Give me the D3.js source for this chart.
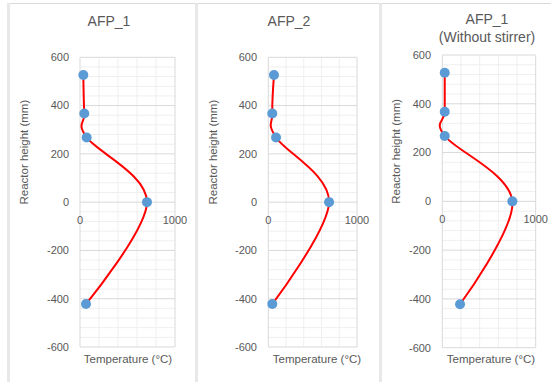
<!DOCTYPE html>
<html>
<head>
<meta charset="utf-8">
<script src="https://cdn.jsdelivr.net/npm/d3@7"></script>
<style>
  body { margin: 0; background: #fff; }
  svg { display: block; font-family: "Liberation Sans", Arial, sans-serif; }
</style>
</head>
<body>
<svg id="chart" width="551" height="382"></svg>
<script>
// Data
const heights = [527, 367, 268, 0, -422];
const tempAfp1 = [35, 45, 70, 705, 63];
const tempAfp2 = [64, 45, 87, 685, 45];
const tempAfp1NoStirrer = [26, 26, 26, 750, 190];
const titles = [["AFP_1"], ["AFP_2"], ["AFP_1", "(Without stirrer)"]];
const yTicks = [-600, -400, -200, 0, 200, 400, 600];
const xTicks = [0, 1000];

const series = [tempAfp1, tempAfp2, tempAfp1NoStirrer];

//Helpers
const translate = (x, y) => `translate(${x}, ${y})`;

// Layout of the three chart boxes
const layout = [
    { frame: 7, left: 80, right: 175, top: 57.3, bottom: 347, titleX: 109, titleY: [26], yTitleX: 24, tickRight: 69, xTitleX: 128 },
    { frame: 195, left: 268.3, right: 357, top: 57.3, bottom: 347, titleX: 289, titleY: [26], yTitleX: 213, tickRight: 257, xTitleX: 317 },
    { frame: 379, left: 442.3, right: 535.7, top: 55, bottom: 347.7, titleX: 487, titleY: [24, 42], yTitleX: 396, tickRight: 431, xTitleX: 491 },
];

const svg = d3.select("#chart");
const textColor = "#595959";

// frames
svg.append("line")
    .attr("x1", 7).attr("x2", 551).attr("y1", 3.5).attr("y2", 3.5)
    .attr("stroke", "#d9d9d9");
layout.forEach(l => {
    svg.append("rect")
        .attr("x", l.frame).attr("y", 3)
        .attr("width", 3).attr("height", 379)
        .attr("fill", "#e8e8e8");
});

const drawPanel = (g, temps, titleLines, l) => {
    const x = d3.scaleLinear().domain([0, 1000]).range([l.left, l.right]);
    const y = d3.scaleLinear().domain([-600, 600]).range([l.bottom, l.top]);

    // minor grid
    g.append("g").selectAll("line")
        .data(d3.range(-600, 601, 40).filter(v => v % 200 !== 0))
        .join("line")
        .attr("x1", l.left).attr("x2", l.right)
        .attr("y1", d => y(d)).attr("y2", d => y(d))
        .attr("stroke", "#efefef");
    g.append("g").selectAll("line")
        .data(d3.range(200, 1000, 200))
        .join("line")
        .attr("y1", l.top).attr("y2", l.bottom)
        .attr("x1", d => x(d)).attr("x2", d => x(d))
        .attr("stroke", "#efefef");
    // major grid
    g.append("g").selectAll("line")
        .data(yTicks)
        .join("line")
        .attr("x1", l.left).attr("x2", l.right)
        .attr("y1", d => y(d)).attr("y2", d => y(d))
        .attr("stroke", "#d9d9d9");
    g.append("g").selectAll("line")
        .data(xTicks)
        .join("line")
        .attr("y1", l.top).attr("y2", l.bottom)
        .attr("x1", d => x(d)).attr("x2", d => x(d))
        .attr("stroke", "#d9d9d9");

    // tick labels
    g.append("g").selectAll("text")
        .data(yTicks)
        .join("text")
        .attr("x", l.tickRight)
        .attr("y", d => y(d))
        .attr("dy", "0.35em")
        .attr("text-anchor", "end")
        .attr("font-size", 11)
        .attr("fill", textColor)
        .text(d => d);
    g.append("g").selectAll("text")
        .data(xTicks)
        .join("text")
        .attr("x", d => x(d))
        .attr("y", y(0) + 22)
        .attr("text-anchor", "middle")
        .attr("font-size", 11)
        .attr("fill", textColor)
        .text(d => d);

    // titles
    titleLines.forEach((t, i) => {
        g.append("text")
            .attr("x", l.titleX)
            .attr("y", l.titleY[i])
            .attr("text-anchor", "middle")
            .attr("font-size", 14)
            .attr("fill", textColor)
            .text(t);
    });
    g.append("text")
        .attr("transform", translate(l.yTitleX, (l.top + l.bottom) / 2 - 50) + " rotate(-90)")
        .attr("dy", "0.35em")
        .attr("text-anchor", "middle")
        .attr("font-size", 11.5)
        .attr("fill", textColor)
        .text("Reactor height (mm)");
    g.append("text")
        .attr("x", l.xTitleX)
        .attr("y", 363)
        .attr("text-anchor", "middle")
        .attr("font-size", 11.5)
        .attr("fill", textColor)
        .text("Temperature (°C)");

    // smoothed line + markers
    const pts = temps.map((t, i) => [t, heights[i]]);
    const line = d3.line()
        .x(d => x(d[0]))
        .y(d => y(d[1]))
        .curve(d3.curveCardinal.tension(0));
    g.append("path")
        .datum(pts)
        .attr("d", line)
        .attr("fill", "none")
        .attr("stroke", "#ff0000")
        .attr("stroke-width", 2);
    g.append("g").selectAll("circle")
        .data(pts)
        .join("circle")
        .attr("cx", d => x(d[0]))
        .attr("cy", d => y(d[1]))
        .attr("r", 5)
        .attr("fill", "#5b9bd5");
};

series.forEach((temps, i) => {
    svg.append("g").call(drawPanel, temps, titles[i], layout[i]);
});
</script>
</body>
</html>
